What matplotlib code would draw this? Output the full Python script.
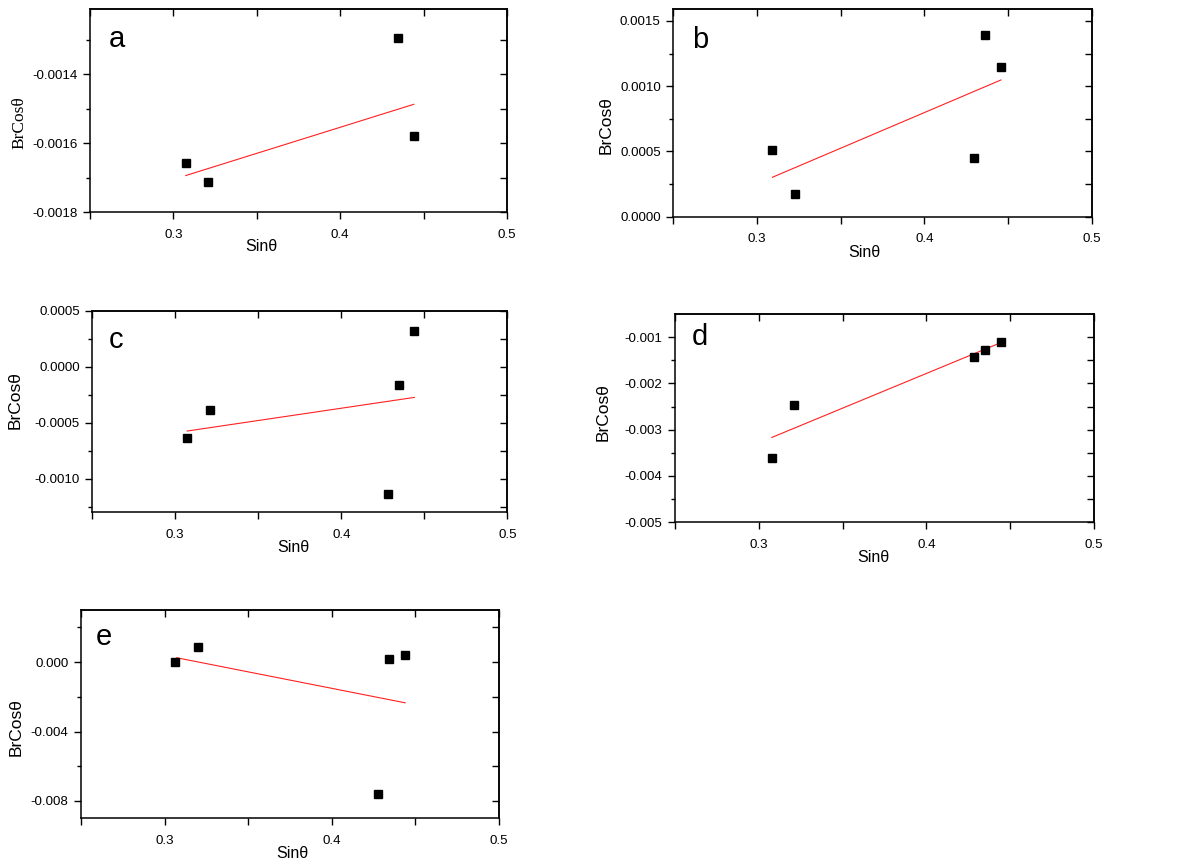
import matplotlib
matplotlib.use("Agg")
import matplotlib.pyplot as plt
import numpy as np

plt.rcParams['font.family'] = ['Liberation Sans', 'DejaVu Sans']
plt.rcParams['axes.unicode_minus'] = False

# --- data (Williamson-Hall style plots) ---
sin_a = [0.3074, 0.3210, 0.4346, 0.4441]
brcos_a = [-0.001659, -0.001714, -0.001295, -0.001580]
fit_sin_a = [0.3074, 0.4441]
fit_brcos_a = [-0.001694, -0.001487]

sin_b = [0.3092, 0.3227, 0.4299, 0.4361, 0.4458]
brcos_b = [0.000511, 0.000174, 0.000450, 0.001396, 0.001150]
fit_sin_b = [0.3092, 0.4458]
fit_brcos_b = [0.000302, 0.001048]

sin_c = [0.3072, 0.3207, 0.4282, 0.4346, 0.4440]
brcos_c = [-0.000634, -0.000390, -0.001137, -0.000161, 0.000315]
fit_sin_c = [0.3072, 0.4440]
fit_brcos_c = [-0.000574, -0.000274]

sin_d = [0.3078, 0.3211, 0.4286, 0.4350, 0.4447]
brcos_d = [-0.003613, -0.002476, -0.001425, -0.001274, -0.001101]
fit_sin_d = [0.3078, 0.4447]
fit_brcos_d = [-0.003167, -0.001115]

sin_e = [0.3062, 0.3198, 0.4277, 0.4341, 0.4439]
brcos_e = [0.0, 0.000847, -0.00762, 0.000173, 0.000404]
fit_sin_e = [0.3072, 0.4439]
fit_brcos_e = [0.00025, -0.002347]

fig = plt.figure(figsize=(11.94, 8.65), dpi=100)


def panel(rect, sx, sy, fx, fy, xlim, ylim, yticks, yminor, yfmt,
          letter, letter_xy, xlab_x, ylab_xy, ylabel_family=None):
    ax = fig.add_axes(rect)
    ax.plot(fx, fy, color='#ff2020', lw=0.8)
    ax.plot(sx, sy, 's', color='black', ms=5.5, ls='none')
    ax.set_xlim(xlim)
    ax.set_ylim(ylim)

    ax.set_xticks([0.3, 0.4, 0.5])
    ax.set_xticklabels(['0.3', '0.4', '0.5'])
    ax.set_xticks(np.arange(0.25, 0.501, 0.05), minor=True)
    ax.set_yticks(yticks)
    ax.set_yticklabels([yfmt % v for v in yticks])
    ax.set_yticks(yminor, minor=True)
    ax.tick_params(which='major', direction='out', length=5, width=1,
                   labelsize=9.6)
    ax.tick_params(axis='x', which='major', pad=7)
    ax.tick_params(axis='y', which='major', pad=4)
    ax.tick_params(axis='x', which='minor', direction='out', length=5, width=1)
    ax.tick_params(axis='y', which='minor', direction='out', length=3, width=1)

    # inward ticks on the top and right edges
    top = ax.secondary_xaxis('top')
    top.set_xticks(np.arange(0.25, 0.501, 0.05))
    top.tick_params(direction='in', length=5, width=1, labeltop=False)
    right = ax.secondary_yaxis('right')
    right.set_yticks(list(yticks) + list(yminor))
    right.tick_params(direction='in', length=5, width=1, labelright=False)
    for s in list(ax.spines.values()) + [top.spines['top'], right.spines['right']]:
        s.set_linewidth(1.1)

    ax.set_xlabel('Sinθ', fontsize=11.5)
    ax.xaxis.set_label_coords(xlab_x, -0.135)
    if ylabel_family:
        ax.set_ylabel('BrCosθ', fontsize=12.5, family=ylabel_family)
    else:
        ax.set_ylabel('BrCosθ', fontsize=12.5)
    ax.yaxis.set_label_coords(ylab_xy[0], ylab_xy[1])
    ax.text(letter_xy[0], letter_xy[1], letter, transform=ax.transAxes,
            fontsize=21, ha='center', va='center')
    return ax


panel([0.0754, 0.7549, 0.3492, 0.2347], sin_a, brcos_a, fit_sin_a, fit_brcos_a,
      (0.29, 0.5), (-0.0018, -0.00121),
      [-0.0018, -0.0016, -0.0014], [-0.0017, -0.0015, -0.0013], '%.4f',
      'a', (0.065, 0.85), 0.412, (-0.151, 0.438),
      ylabel_family=['Liberation Serif', 'DejaVu Serif'])

panel([0.5639, 0.7495, 0.3504, 0.2398], sin_b, brcos_b, fit_sin_b, fit_brcos_b,
      (0.27, 0.5), (0.0, 0.00159),
      [0.0, 0.0005, 0.0010, 0.0015], [0.00025, 0.00075, 0.00125], '%.4f',
      'b', (0.064, 0.85), 0.457, (-0.142, 0.442))

panel([0.0773, 0.4077, 0.3476, 0.2331], sin_c, brcos_c, fit_sin_c, fit_brcos_c,
      (0.25, 0.5), (-0.0013, 0.0005),
      [-0.0010, -0.0005, 0.0, 0.0005], [-0.00125, -0.00075, -0.00025, 0.00025], '%.4f',
      'c', (0.057, 0.855), 0.484, (-0.167, 0.557))

panel([0.5653, 0.3962, 0.3509, 0.2408], sin_d, brcos_d, fit_sin_d, fit_brcos_d,
      (0.25, 0.5), (-0.005, -0.0005),
      [-0.005, -0.004, -0.003, -0.002, -0.001], [-0.0045, -0.0035, -0.0025, -0.0015], '%.3f',
      'd', (0.06, 0.89), 0.473, (-0.153, 0.531))

panel([0.0678, 0.0540, 0.3501, 0.2408], sin_e, brcos_e, fit_sin_e, fit_brcos_e,
      (0.25, 0.5), (-0.009, 0.003),
      [-0.008, -0.004, 0.0], [-0.006, -0.002, 0.002], '%.3f',
      'e', (0.055, 0.87), 0.505, (-0.137, 0.44))

fig.savefig('out.png', dpi=100)
